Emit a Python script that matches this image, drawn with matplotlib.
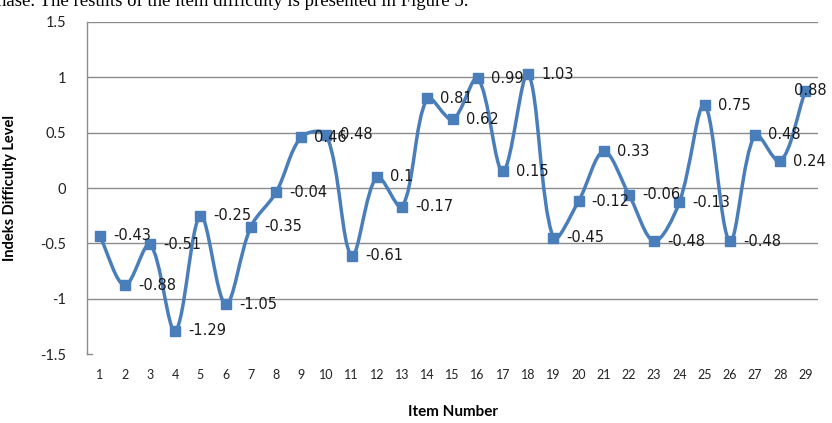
import numpy as np
import matplotlib
matplotlib.use("Agg")
import matplotlib.pyplot as plt
from matplotlib.path import Path
from matplotlib.patches import PathPatch

items = list(range(1, 30))
difficulty = [-0.43, -0.88, -0.51, -1.29, -0.25, -1.05, -0.35, -0.04, 0.46, 0.48,
              -0.61, 0.10, -0.17, 0.81, 0.62, 0.99, 0.15, 1.03, -0.45, -0.12,
              0.33, -0.06, -0.48, -0.13, 0.75, -0.48, 0.48, 0.24, 0.88]
value_labels = ["-0.43", "-0.88", "-0.51", "-1.29", "-0.25", "-1.05", "-0.35", "-0.04",
                "0.46", "0.48", "-0.61", "0.1", "-0.17", "0.81", "0.62", "0.99", "0.15",
                "1.03", "-0.45", "-0.12", "0.33", "-0.06", "-0.48", "-0.13", "0.75",
                "-0.48", "0.48", "0.24", "0.88"]
y_ticks = [-1.5, -1, -0.5, 0, 0.5, 1, 1.5]
y_tick_labels = ["-1.5", "-1", "-0.5", "0", "0.5", "1", "1.5"]

BLUE = "#4A7EBB"
GRID = "#8C8C8C"
UI_FONT = ["Lato", "DejaVu Sans"]

fig = plt.figure(figsize=(8.32, 4.23), dpi=100)
ax = fig.add_axes([87 / 832, 69 / 423, 731 / 832, 332 / 423])
ax.set_xlim(0.5, 29.5)
ax.set_ylim(-1.5, 1.5)

# Smoothed line: Bezier segments whose control points are weighted by the
# chord lengths measured in screen space (spreadsheet-style smoothing)
x = np.array(items, dtype=float)
y = np.array(difficulty, dtype=float)
fig.canvas.draw()
trans = ax.transData
pix = trans.transform(np.column_stack([x, y]))
n = len(pix)
ext = np.vstack([pix[0], pix, pix[-1]])
out_ctrl = np.zeros_like(pix)
in_ctrl = np.zeros_like(pix)
f = 1.0 / 3.0
for i in range(n):
    prev_p, p, next_p = ext[i], ext[i + 1], ext[i + 2]
    d_prev = np.hypot(*(p - prev_p))
    d_next = np.hypot(*(next_p - p))
    tot = d_prev + d_next
    tangent = next_p - prev_p
    if tot == 0:
        out_ctrl[i] = p
        in_ctrl[i] = p
        continue
    out_ctrl[i] = p + tangent * f * d_next / tot
    in_ctrl[i] = p - tangent * f * d_prev / tot
verts_px = [pix[0]]
codes = [Path.MOVETO]
for i in range(n - 1):
    verts_px += [out_ctrl[i], in_ctrl[i + 1], pix[i + 1]]
    codes += [Path.CURVE4] * 3
verts = trans.inverted().transform(np.array(verts_px))
ax.add_patch(PathPatch(Path(verts, codes), facecolor="none", edgecolor=BLUE,
                       lw=2.5, capstyle="round", joinstyle="round", zorder=3))
ax.plot(x, y, linestyle="none", marker="s", markersize=6.5, color=BLUE, zorder=4)

# Value labels to the right of each point
for i, (xi, yi, lab) in enumerate(zip(x, y, value_labels)):
    dx = 9.5 if i < n - 1 else -8
    ax.annotate(lab, (xi, yi), xytext=(dx, 0), textcoords="offset points",
                ha="left", va="center", fontsize=10.5, color="#1a1a1a",
                family="DejaVu Sans", zorder=5, annotation_clip=False)

ax.set_yticks(y_ticks)
ax.set_yticklabels(y_tick_labels, fontsize=10.5, family=UI_FONT, color="#222222")
ax.set_xticks(items)
ax.set_xticklabels([str(i) for i in items], fontsize=9, family=UI_FONT, color="#222222")
ax.tick_params(axis="y", length=0, pad=15)
ax.tick_params(axis="x", length=0, pad=11)

for yv in y_ticks[1:]:
    ax.axhline(yv, color=GRID, lw=1.0, zorder=1)
for s in ["top", "right", "bottom"]:
    ax.spines[s].set_visible(False)
ax.spines["left"].set_color(GRID)
ax.spines["left"].set_linewidth(1.0)
ax.plot([0, 0.007], [0, 0], transform=ax.transAxes, color=GRID, lw=1.0, clip_on=False)

ax.set_ylabel("Indeks Difficulty Level", fontsize=10.5, fontweight="bold", family=UI_FONT)
ax.yaxis.set_label_coords(-(87 - 17) / 731, 0.5)
ax.set_xlabel("Item Number", fontsize=11, fontweight="bold", family=UI_FONT)
ax.xaxis.set_label_coords(0.5, -(405 - 354) / 332)

fig.text(-0.004, 1 - 6 / 423, "hase. The results of the item difficulty is presented in Figure 5.",
         family="Liberation Serif", fontsize=13.5, ha="left", va="baseline", color="black")

fig.savefig("out.png", dpi=100)
